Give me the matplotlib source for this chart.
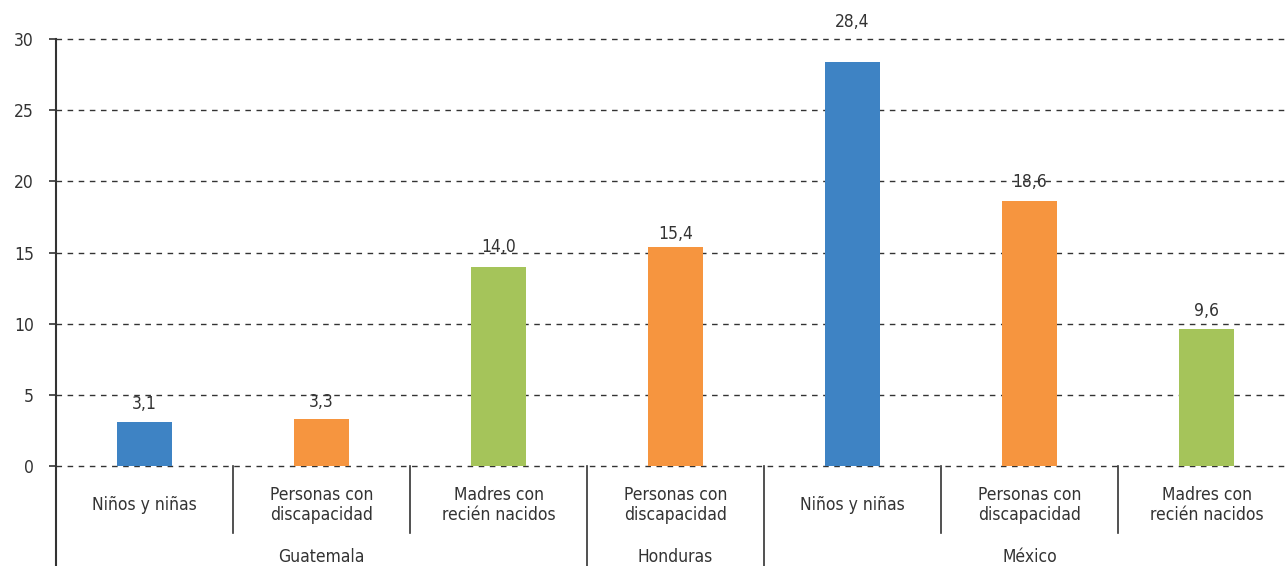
import matplotlib
matplotlib.use("Agg")
import matplotlib.pyplot as plt
from matplotlib.transforms import blended_transform_factory

categories = ["Niños y niñas", "Personas con\ndiscapacidad", "Madres con\nrecién nacidos",
              "Personas con\ndiscapacidad", "Niños y niñas", "Personas con\ndiscapacidad",
              "Madres con\nrecién nacidos"]
values = [3.1, 3.3, 14.0, 15.4, 28.4, 18.6, 9.6]
value_labels = ["3,1", "3,3", "14,0", "15,4", "28,4", "18,6", "9,6"]
groups = ["Guatemala", "Honduras", "México"]
group_sizes = [3, 1, 3]
yticks = [0, 5, 10, 15, 20, 25, 30]

BLUE, ORANGE, GREEN = "#3E83C4", "#F6953F", "#A5C45A"
kind_colors = {"Niños y niñas": BLUE, "Personas con\ndiscapacidad": ORANGE,
               "Madres con\nrecién nacidos": GREEN}
colors = [kind_colors[c] for c in categories]
# gap (pixels) between each bar top and its value label
label_gap = [9, 8, 11, 4, 31, 10, 9]

plt.rcParams["font.family"] = ["DejaVu Sans"]
plt.rcParams["font.stretch"] = "condensed"
TXT = "#333333"
LINE = "#333333"
FS = 12.5

W, H = 1286, 566
fig = plt.figure(figsize=(W / 100, H / 100), dpi=100)
ax = fig.add_axes([56 / W, 100 / H, (1295 - 56) / W, 427 / H])

x = list(range(len(values)))
ax.bar(x, values, width=0.316, color=colors, zorder=3)
ax.set_xlim(-0.5, len(values) - 0.5)
ax.set_ylim(0, 30)

for xi, v, lab, gap in zip(x, values, value_labels, label_gap):
    ax.annotate(lab, (xi, v), xytext=(0, gap), textcoords="offset pixels",
                ha="center", va="bottom", fontsize=FS, color=TXT)

ax.set_yticks(yticks)
ax.set_yticklabels([str(t) for t in yticks], fontsize=FS, color=TXT)
ax.tick_params(axis="y", length=5, width=1.2, color=LINE, pad=11)
ax.set_xticks([])
for t in yticks:
    ax.axhline(t, color=LINE, lw=1, ls=(0, (4, 4)), zorder=2, clip_on=False)

for s in ["top", "right", "bottom", "left"]:
    ax.spines[s].set_visible(False)

trans = blended_transform_factory(ax.transData, fig.transFigure)
y0 = 100 / H
# y axis line extended down through the label area
fig.add_artist(plt.Line2D([56 / W, 56 / W], [0, 527 / H], color=LINE, lw=1.5))

# category labels and separators
for xi, c in enumerate(categories):
    ax.text(xi, (566 - 505) / H, c, transform=trans, ha="center", va="center",
            fontsize=FS, color=TXT, linespacing=1.2)

boundaries = []
acc = 0
for g in group_sizes[:-1]:
    acc += g
    boundaries.append(acc)
for b in range(1, len(values)):
    xb = b - 0.5
    ybot = 0 if b in boundaries else (566 - 533) / H
    ax.add_line(plt.Line2D([xb, xb], [ybot, y0], transform=trans, color=LINE,
                           lw=1.2, clip_on=False))

# group labels
start = 0
for g, n in zip(groups, group_sizes):
    ax.text(start + (n - 1) / 2, (566 - 557) / H, g, transform=trans, ha="center",
            va="center", fontsize=FS, color=TXT)
    start += n

fig.savefig("out.png", dpi=100)
